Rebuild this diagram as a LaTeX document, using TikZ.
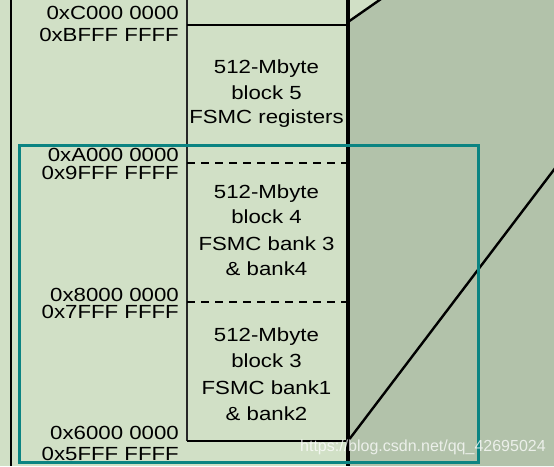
\documentclass[tikz,border=0pt]{standalone}
\usepackage{fontspec}
\newfontfamily\labfont{Liberation Sans}[FakeStretch=1.17]
\newfontfamily\wmfont{Liberation Sans}
\definecolor{lightgr}{HTML}{D1E0C6}
\definecolor{graygr}{HTML}{B2C2AA}
\definecolor{tealbox}{HTML}{0B8482}
\begin{document}
\begin{tikzpicture}[x=1pt,y=-1pt,
  addr/.style={anchor=base east,inner sep=0pt,font=\labfont\fontsize{19}{23}\selectfont},
  blk/.style={anchor=base,inner sep=0pt,font=\labfont\fontsize{19}{23}\selectfont},
  thickln/.style={line width=2.8pt,black},
  dashln/.style={line width=2.3pt,black,dash pattern=on 8pt off 6pt},
  diag/.style={line width=2.4pt,black}]
\useasboundingbox (0,0) rectangle (554,466);
\fill[lightgr] (0,0) rectangle (554,466);
\fill[graygr] (348,22) -- (380,0) -- (554,0) -- (554,466) -- (348,466) -- cycle;
% coordinates
\coordinate (tl) at (11,0);
\coordinate (bl) at (11,466);
\coordinate (cl0) at (187,0);
\coordinate (cl1) at (187,441);
\coordinate (cr0) at (348,0);
\coordinate (cr1) at (348,466);
\coordinate (h1a) at (187,25);
\coordinate (h1b) at (348,25);
\coordinate (h2a) at (187,163);
\coordinate (h2b) at (348,163);
\coordinate (h3a) at (187,302);
\coordinate (h3b) at (348,302);
\coordinate (h4a) at (187,441);
\coordinate (h4b) at (348,441);
\coordinate (d1a) at (348,22);
\coordinate (d1b) at (381,-1);
\coordinate (d2a) at (348,441);
\coordinate (d2b) at (556,167);
% lines
\draw[line width=2.3pt] (tl) -- (bl);
\draw[line width=1.6pt,black!85] (cl0) -- (cl1);
\draw[line width=3.2pt] (cr0) -- (cr1);
\draw[thickln] (h1a) -- (h1b);
\draw[dashln] (h2a) -- (h2b);
\draw[dashln] (h3a) -- (h3b);
\draw[thickln] (h4a) -- (h4b);
\draw[diag] (d1a) -- (d1b);
\draw[diag] (d2a) -- (d2b);
% teal box
\draw[tealbox,line width=3pt] (19,145) rectangle (478,462);
% addresses
\node[addr] (aC) at (179,19) {0xC000 0000};
\node[addr] (aB) at (179,41.5) {0xBFFF FFFF};
\node[addr] (aA) at (179,161.7) {0xA000 0000};
\node[addr] (a9) at (179,179.3) {0x9FFF FFFF};
\node[addr] (a8) at (179,301.5) {0x8000 0000};
\node[addr] (a7) at (179,318.8) {0x7FFF FFFF};
\node[addr] (a6) at (179,439.3) {0x6000 0000};
\node[addr] (a5) at (179,460) {0x5FFF FFFF};
% block 5
\node[blk] (b5a) at (266.5,73.3) {512-Mbyte};
\node[blk] (b5b) at (266.5,99) {block 5};
\node[blk] (b5c) at (266.5,123) {FSMC registers};
% block 4
\node[blk] (b4a) at (266.5,198.3) {512-Mbyte};
\node[blk] (b4b) at (266.5,223.5) {block 4};
\node[blk] (b4c) at (266.5,250) {FSMC bank 3};
\node[blk] (b4d) at (266.5,275) {\& bank4};
% block 3
\node[blk] (b3a) at (266.5,341) {512-Mbyte};
\node[blk] (b3b) at (266.5,367.5) {block 3};
\node[blk] (b3c) at (266.5,394.5) {FSMC bank1};
\node[blk] (b3d) at (266.5,420) {\& bank2};
% watermark
\node[anchor=base west,inner sep=0pt,text=white,text opacity=0.75,font=\wmfont\fontsize{16}{18}\selectfont] (wm) at (300,451.5) {https://blog.csdn.net/qq\_42695024};
\end{tikzpicture}
\end{document}
